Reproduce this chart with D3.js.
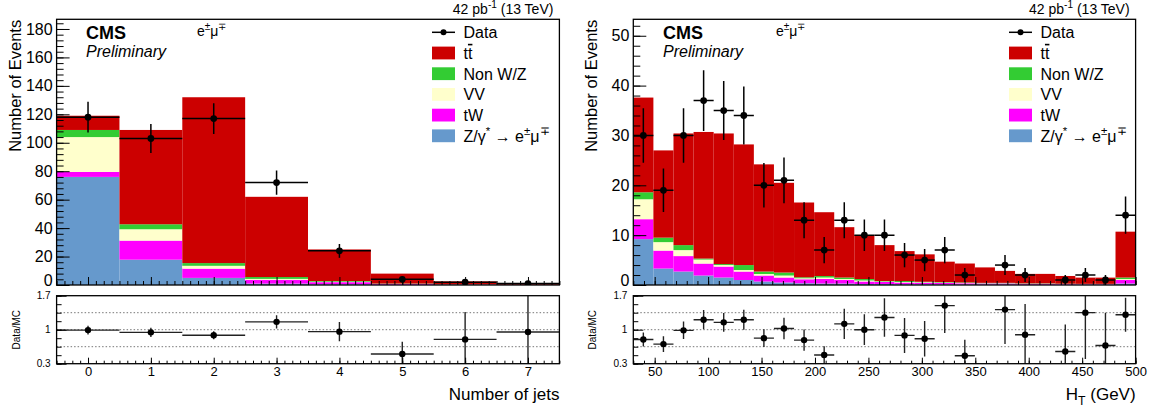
<!DOCTYPE html>
<html>
<head>
<meta charset="utf-8">
<script src="https://cdn.jsdelivr.net/npm/d3@7"></script>
<style>
  html, body { margin: 0; padding: 0; background: #fff; }
  svg { display: block; font-family: "Liberation Sans", Arial, Helvetica, sans-serif; }
</style>
</head>
<body>
<svg id="chart" width="1157" height="414"></svg>
<script>
// ---- Jet multiplicity (left) ----
const jetBins   = [0, 1, 2, 3, 4, 5, 6, 7];
const jetData   = [118, 103, 117, 72, 24, 4, 2, 1];
const jetDY     = [76, 17.8, 5.0, 1.0, 0.5, 0.2, 0.1, 0.05];
const jetTW     = [3.5, 13.4, 6.5, 2.5, 1.5, 0.5, 0.2, 0.1];
const jetVV     = [24.5, 8.0, 2.0, 0.8, 0.3, 0.1, 0.05, 0.02];
const jetNonWZ  = [5.0, 3.5, 1.9, 1.3, 0.5, 0.2, 0.1, 0.05];
const jetTT     = [10.0, 66.3, 116.6, 56.4, 22.2, 7.0, 2.05, 0.83];
const jetTicks  = [0, 1, 2, 3, 4, 5, 6, 7];

// ---- HT distribution (right), 25 bins from 30 to 500 GeV ----
const htLow = 30, htHigh = 500, htBinCount = 25;
const htData  = [30, 19, 30, 37, 35, 34, 20, 21, 13, 7, 13, 10, 10, 6, 5, 7, 2, 0, 4, 2, 0, 1, 2, 1, 14];
const htDY    = [9.2, 3.3, 2.7, 1.9, 1.5, 1.0, 0.7, 0.5, 0.35, 0.3, 0.3, 0.2, 0.2, 0.15, 0.15, 0.1, 0.1, 0.1, 0.1, 0.08, 0.08, 0.06, 0.05, 0.05, 0.3];
const htTW    = [4.0, 3.6, 3.1, 2.4, 2.2, 1.7, 1.2, 1.0, 0.8, 0.9, 0.7, 0.5, 0.4, 0.35, 0.3, 0.3, 0.25, 0.2, 0.2, 0.15, 0.15, 0.12, 0.1, 0.1, 0.7];
const htVV    = [4.0, 1.7, 1.2, 0.8, 0.3, 0.3, 0.3, 0.4, 0.2, 0.3, 0.2, 0.2, 0.1, 0.1, 0.1, 0.08, 0.06, 0.05, 0.05, 0.04, 0.04, 0.03, 0.03, 0.03, 0.2];
const htNonWZ = [1.4, 0.9, 1.0, 0.2, 0.2, 1.0, 0.5, 0.6, 0.2, 0.3, 0.3, 0.3, 0.1, 0.2, 0.1, 0.1, 0.1, 0.08, 0.08, 0.06, 0.06, 0.05, 0.05, 0.05, 0.3];
const htTT    = [19.0, 17.5, 22.4, 25.4, 26.2, 24.2, 21.5, 18.0, 15.0, 12.8, 10.1, 8.8, 7.2, 6.0, 5.5, 4.1, 3.8, 3.1, 2.4, 1.9, 1.9, 1.55, 1.25, 1.25, 9.2];
const htTicks = [50, 100, 150, 200, 250, 300, 350, 400, 450, 500];

// ---- Ratio axis ----
const ratioTicks = [0.3, 1, 1.7];
const ratioGrid  = [0.65, 1, 1.35];

// ---- Legend ----
const processKeys   = ["dy", "tw", "vv", "nonwz", "tt"];
const processColors = { tt: "#cc0000", nonwz: "#33cc33", vv: "#ffffcc", tw: "#ff00ff", dy: "#6699cc" };
const legendOrder   = ["tt", "nonwz", "vv", "tw", "dy"];
const legendLabels  = {
  tt:    [{ t: "t" }, { t: "t", over: true }],
  nonwz: [{ t: "Non W/Z" }],
  vv:    [{ t: "VV" }],
  tw:    [{ t: "tW" }],
  dy:    [{ t: "Z/γ" }, { t: "*", sup: true }, { t: " → e" }, { t: "±", sup: true }, { t: "μ" }, { t: "∓", sup: true }]
};

const svg = d3.select("#chart");
const FONT = "'Liberation Sans', Arial, Helvetica, sans-serif";

// Write text made of plain / superscript / subscript / overlined pieces
function rich(sel, parts, size) {
  let shift = 0;
  parts.forEach(p => {
    const ts = sel.append("tspan").text(p.t);
    let target = 0, fs = size;
    if (p.sup) { target = -0.42 * size; fs = size * 0.72; }
    if (p.sub) { target = 0.28 * size; fs = size * 0.72; }
    if (p.over) ts.style("text-decoration", "overline");
    ts.attr("font-size", fs).attr("dy", target - shift);
    shift = target;
  });
  return sel;
}

function panel(cfg) {
  const g = svg.append("g");
  const { x, y, yr, top, bottom, rTop, rBottom } = cfg;
  const [xl, xr] = x.range();
  const id = cfg.id;

  // clips for the main pad and the ratio pad
  const defs = svg.append("defs");
  defs.append("clipPath").attr("id", id + "-clip")
    .append("rect").attr("x", xl).attr("y", top).attr("width", xr - xl).attr("height", bottom - top);
  defs.append("clipPath").attr("id", id + "-rclip")
    .append("rect").attr("x", xl).attr("y", rTop).attr("width", xr - xl).attr("height", rBottom - rTop);

  // stacked histograms
  const rows = cfg.edges.slice(0, -1).map((lo, i) => ({
    lo, hi: cfg.edges[i + 1],
    dy: cfg.dy[i], tw: cfg.tw[i], vv: cfg.vv[i], nonwz: cfg.nonwz[i], tt: cfg.tt[i]
  }));
  const stacked = d3.stack().keys(processKeys)(rows);
  const hist = g.append("g").attr("clip-path", `url(#${id}-clip)`);
  stacked.forEach(layer => {
    hist.append("g").attr("fill", processColors[layer.key])
      .selectAll("rect").data(layer).join("rect")
      .attr("x", d => x(d.data.lo))
      .attr("width", d => x(d.data.hi) - x(d.data.lo))
      .attr("y", d => y(d[1]))
      .attr("height", d => Math.max(0, y(d[0]) - y(d[1])));
  });

  // data points with statistical errors
  const pts = rows.map((r, i) => ({
    lo: r.lo, hi: r.hi, c: (r.lo + r.hi) / 2, n: cfg.data[i],
    mc: r.dy + r.tw + r.vv + r.nonwz + r.tt
  })).filter(d => d.n > 0);
  const dg = g.append("g").attr("clip-path", `url(#${id}-clip)`);
  dg.selectAll("line.h").data(pts).join("line").attr("class", "h")
    .attr("x1", d => x(d.lo)).attr("x2", d => x(d.hi))
    .attr("y1", d => y(d.n)).attr("y2", d => y(d.n))
    .attr("stroke", "#000").attr("stroke-width", 1.5);
  dg.selectAll("line.v").data(pts).join("line").attr("class", "v")
    .attr("x1", d => x(d.c)).attr("x2", d => x(d.c))
    .attr("y1", d => y(d.n + Math.sqrt(d.n))).attr("y2", d => y(Math.max(0, d.n - Math.sqrt(d.n))))
    .attr("stroke", "#000").attr("stroke-width", 1.5);
  dg.selectAll("circle").data(pts).join("circle")
    .attr("cx", d => x(d.c)).attr("cy", d => y(d.n)).attr("r", 3.4).attr("fill", "#000");

  // main pad axes (ticks inside the frame)
  const noDomain = s => s.select(".domain").remove();
  g.append("g").attr("transform", `translate(${xl},0)`)
    .call(d3.axisLeft(y).tickValues(cfg.yMinor).tickSize(-7).tickFormat(""))
    .call(noDomain);
  g.append("g").attr("transform", `translate(${xl},0)`)
    .call(d3.axisLeft(y).tickValues(cfg.yMajor).tickSize(-13).tickPadding(4).tickFormat(d3.format("d")))
    .call(noDomain)
    .call(s => s.selectAll("text").attr("font-size", 16).attr("font-family", FONT).attr("fill", "#000"))
    // the zero label sits right on the pad edge; keep it above the ratio pad
    .call(s => s.selectAll(".tick").filter(d => d === 0).select("text").attr("dy", "0.05em"));
  g.append("g").attr("transform", `translate(0,${bottom})`)
    .call(d3.axisBottom(x).tickValues(cfg.xMinor).tickSize(-4).tickFormat(""))
    .call(noDomain);
  g.append("g").attr("transform", `translate(0,${bottom})`)
    .call(d3.axisBottom(x).tickValues(cfg.xMajor).tickSize(-8).tickFormat(""))
    .call(noDomain);
  g.selectAll(".tick line").attr("stroke", "#000").attr("stroke-width", 1);

  g.append("rect").attr("x", xl).attr("y", top).attr("width", xr - xl).attr("height", bottom - top)
    .attr("fill", "none").attr("stroke", "#000").attr("stroke-width", 1.3);

  // texts in the main pad
  g.append("text").attr("x", cfg.cmsX).attr("y", 39).attr("font-size", 18).attr("font-weight", "bold").text("CMS");
  g.append("text").attr("x", cfg.cmsX).attr("y", 57).attr("font-size", 16).attr("font-style", "italic").text("Preliminary");
  rich(g.append("text").attr("x", cfg.chanX).attr("y", 36), [{ t: "e" }, { t: "±", sup: true }, { t: "μ" }, { t: "∓", sup: true }], 14);
  rich(g.append("text").attr("x", xr - 6).attr("y", 14).attr("text-anchor", "end"),
    [{ t: "42 pb" }, { t: "-1", sup: true }, { t: " (13 TeV)" }], 14);
  g.append("text").attr("transform", `translate(${xl - 36},${top + 0.5}) rotate(-90)`)
    .attr("text-anchor", "end").attr("font-size", 16.5).text("Number of Events");

  // legend
  const lg = g.append("g");
  const rowY = i => 32.3 + i * 20.7;
  const sx = cfg.legX;
  lg.append("line").attr("x1", sx).attr("x2", sx + 23).attr("y1", rowY(0)).attr("y2", rowY(0))
    .attr("stroke", "#000").attr("stroke-width", 1.5);
  lg.append("circle").attr("cx", sx + 11.5).attr("cy", rowY(0)).attr("r", 3).attr("fill", "#000");
  lg.append("text").attr("x", sx + 31.5).attr("y", rowY(0) + 5.8).attr("font-size", 16).text("Data");
  legendOrder.forEach((k, j) => {
    const cy = rowY(j + 1);
    lg.append("rect").attr("x", sx).attr("y", cy - 6.4).attr("width", 23).attr("height", 12.8)
      .attr("fill", processColors[k]);
    rich(lg.append("text").attr("x", sx + 31.5).attr("y", cy + 5.8), legendLabels[k], 16);
  });

  // ratio pad
  svg.append("rect").attr("x", xl - 50).attr("y", bottom + 2).attr("width", xr - xl + 52).attr("height", 414 - bottom - 2)
    .attr("fill", "#fff");
  const rg = svg.append("g");
  rg.append("g").selectAll("line").data(ratioGrid).join("line")
    .attr("x1", xl).attr("x2", xr).attr("y1", d => yr(d)).attr("y2", d => yr(d))
    .attr("stroke", "#777").attr("stroke-width", 1).attr("stroke-dasharray", "1.5,2");

  const rp = rg.append("g").attr("clip-path", `url(#${id}-rclip)`);
  const rpts = pts.map(d => ({ ...d, r: d.n / d.mc, e: Math.sqrt(d.n) / d.mc }));
  rp.selectAll("line.h").data(rpts).join("line").attr("class", "h")
    .attr("x1", d => x(d.lo)).attr("x2", d => x(d.hi))
    .attr("y1", d => yr(d.r)).attr("y2", d => yr(d.r))
    .attr("stroke", "#222").attr("stroke-width", 1.4);
  rp.selectAll("line.v").data(rpts).join("line").attr("class", "v")
    .attr("x1", d => x(d.c)).attr("x2", d => x(d.c))
    .attr("y1", d => yr(d.r + d.e)).attr("y2", d => yr(d.r - d.e))
    .attr("stroke", "#222").attr("stroke-width", 1.4);
  rp.selectAll("circle").data(rpts).join("circle")
    .attr("cx", d => x(d.c)).attr("cy", d => yr(d.r)).attr("r", 3.2).attr("fill", "#000");

  rg.append("g").attr("transform", `translate(${xl},0)`)
    .call(d3.axisLeft(yr).tickValues(d3.range(0, 9).map(k => 0.3 + k * 0.175)).tickSize(-5).tickFormat(""))
    .call(noDomain);
  rg.append("g").attr("transform", `translate(${xl},0)`)
    .call(d3.axisLeft(yr).tickValues(ratioTicks).tickSize(-10).tickPadding(6).tickFormat(d3.format("")))
    .call(noDomain)
    .call(s => s.selectAll("text").attr("font-size", 10).attr("font-family", FONT).attr("fill", "#000"));
  rg.append("g").attr("transform", `translate(0,${rBottom})`)
    .call(d3.axisBottom(x).tickValues(cfg.xMinor).tickSize(-3).tickFormat(""))
    .call(noDomain);
  rg.append("g").attr("transform", `translate(0,${rBottom})`)
    .call(d3.axisBottom(x).tickValues(cfg.xMajor).tickSize(-6).tickPadding(3).tickFormat(d3.format("d")))
    .call(noDomain)
    .call(s => s.selectAll("text").attr("font-size", 13).attr("font-family", FONT).attr("fill", "#000"));
  rg.selectAll(".tick line").attr("stroke", "#000").attr("stroke-width", 1);

  rg.append("rect").attr("x", xl).attr("y", rTop).attr("width", xr - xl).attr("height", rBottom - rTop)
    .attr("fill", "none").attr("stroke", "#000").attr("stroke-width", 1.3);
  rg.append("text").attr("transform", `translate(${xl - 37},${(rTop + rBottom) / 2}) rotate(-90)`)
    .attr("text-anchor", "middle").attr("font-size", 10).text("Data/MC");

  rich(rg.append("text").attr("x", xr).attr("y", 400).attr("text-anchor", "end"), cfg.xTitle, 17);
}

svg.attr("font-family", FONT).attr("fill", "#000");

const TOP = 19.3, BOTTOM = 285, RTOP = 295.7, RBOTTOM = 363.7;

// left: jet multiplicity
const xJ = d3.scaleLinear().domain([-0.5, 7.5]).range([56.6, 559.4]);
panel({
  id: "jets",
  x: xJ,
  y: d3.scaleLinear().domain([0, 186.8]).range([BOTTOM, TOP]),
  yr: d3.scaleLinear().domain([0.3, 1.7]).range([RBOTTOM, RTOP]),
  top: TOP, bottom: BOTTOM, rTop: RTOP, rBottom: RBOTTOM,
  edges: [...jetBins.map(b => b - 0.5), jetBins[jetBins.length - 1] + 0.5],
  data: jetData, dy: jetDY, tw: jetTW, vv: jetVV, nonwz: jetNonWZ, tt: jetTT,
  yMajor: d3.range(0, 181, 20), yMinor: d3.range(0, 187, 4),
  xMajor: jetTicks, xMinor: d3.range(-4, 61).map(k => k * 0.125),
  cmsX: 86, chanX: 197, legX: 432,
  xTitle: [{ t: "Number of jets" }]
});

// right: HT
const htStep = (htHigh - htLow) / htBinCount;
const htEdges = d3.range(htBinCount + 1).map(k => htLow + k * htStep);
panel({
  id: "ht",
  x: d3.scaleLinear().domain([htLow, htHigh]).range([633.3, 1135.6]),
  y: d3.scaleLinear().domain([0, 53.3]).range([BOTTOM, TOP]),
  yr: d3.scaleLinear().domain([0.3, 1.7]).range([RBOTTOM, RTOP]),
  top: TOP, bottom: BOTTOM, rTop: RTOP, rBottom: RBOTTOM,
  edges: htEdges,
  data: htData, dy: htDY, tw: htTW, vv: htVV, nonwz: htNonWZ, tt: htTT,
  yMajor: d3.range(0, 51, 10), yMinor: d3.range(0, 54, 2),
  xMajor: htTicks, xMinor: d3.range(30, 501, 10),
  cmsX: 663, chanX: 776, legX: 1009,
  xTitle: [{ t: "H" }, { t: "T", sub: true }, { t: " (GeV)" }]
});
</script>
</body>
</html>
